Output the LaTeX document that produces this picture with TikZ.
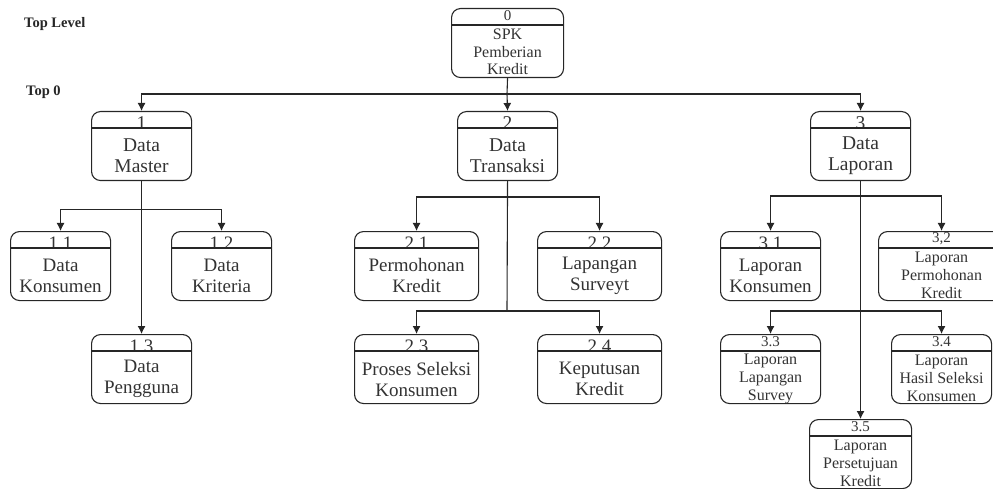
\documentclass[tikz,border=0pt]{standalone}
\usepackage{fontspec}
\setmainfont{Liberation Serif}
\usetikzlibrary{arrows.meta,calc}
\tikzset{x=1pt,y=-1pt,
 procbox/.style={draw=black!85,line width=1.1pt,rounded corners=9pt,inner sep=0pt,anchor=north west},
 arr/.style={draw=black!85,line width=1.1pt,-{Latex[length=8pt,width=8pt]}},
 plainline/.style={draw=black!85,line width=1.1pt},
 lab/.style={align=center,inner sep=0pt,text=black!80},
 toplab/.style={font=\fontsize{14.5pt}{16pt}\selectfont\bfseries,anchor=west,inner sep=0pt,text=black!85}}
% name, x1, x2, ytop, number, text, font size, leading, body centre offset
\newcommand{\pbox}[9]{%
 \node[procbox,minimum width={(#3-#2)*1pt},minimum height=69pt] (#1) at (#2,#4) {};
 \ifdim #7pt<18pt
  \node[lab,font=\fontsize{15}{15}\selectfont] (#1n) at ($(#1.north)+(0,7.5)$) {#5};
 \else
  \begin{scope}
   \clip (#1.north west) rectangle ($(#1.north east)+(0,17)$);
   \node[lab,font=\fontsize{#7pt}{#8pt}\selectfont] (#1n) at ($(#1.north)+(0,12)$) {#5};
  \end{scope}
 \fi
 \draw[plainline] ($(#1.north west)+(0,17)$) -- ($(#1.north east)+(0,17)$);
 \node[lab,font=\fontsize{#7pt}{#8pt}\selectfont] (#1t) at ($(#1.north)+(0,#9)$) {#6};
}
\begin{document}
\begin{tikzpicture}
\useasboundingbox (0,0) rectangle (993,489);
\begin{scope}
\clip (0,0) rectangle (993,489);
\pbox{db}{878}{1004}{231}{3,2}{Laporan\\Permohonan\\Kredit}{16}{18}{44.5}
\end{scope}
\node[toplab] (tl) at (24,24) {Top Level};
\node[toplab] (t0) at (26,92) {Top 0};
\pbox{a}{451}{563}{8}{0}{SPK\\Pemberian\\Kredit}{16}{17.5}{44}
\pbox{b}{91}{191}{111}{1}{Data\\Master}{19.5}{21}{45}
\pbox{c}{457}{557}{111}{2}{Data\\Transaksi}{19.5}{21}{45}
\pbox{d}{810}{910}{111}{3}{Data\\Laporan}{19.5}{21}{45}
\pbox{ba}{10}{110}{231}{1.1}{Data\\Konsumen}{19}{21}{45}
\pbox{bb}{171}{271}{231}{1.2}{Data\\Kriteria}{19}{21}{45}
\pbox{bc}{91}{191}{334}{1.3}{Data\\Pengguna}{19}{21}{45}
\pbox{ca}{354}{478}{231}{2.1}{Permohonan\\Kredit}{19}{21}{45}
\pbox{cb}{537}{661}{231}{2.2}{Lapangan\\Surveyt}{19}{21}{45}
\pbox{cc}{354}{478}{334}{2.3}{Proses Seleksi\\Konsumen}{19}{21}{45}
\pbox{cd}{537}{661}{334}{2.4}{Keputusan\\Kredit}{19}{21}{45}
\pbox{da}{720}{820}{231}{3.1}{Laporan\\Konsumen}{19}{21}{45}
\pbox{dc}{720}{820}{334}{3.3}{Laporan\\Lapangan\\Survey}{16}{18}{44.5}
\pbox{dd}{891}{991}{334}{3.4}{Laporan\\Hasil Seleksi\\Konsumen}{16}{18}{44.5}
\pbox{de}{809}{911}{419}{3.5}{Laporan\\Persetujuan\\Kredit}{16}{18}{44.5}
\coordinate (busa) at (507,94);
\coordinate (busb) at (141,209.5);
\coordinate (busc) at (507,197);
\coordinate (buscc) at (507,311);
\coordinate (busd) at (860,196);
\coordinate (busdd) at (860,311);
\draw[plainline] (a.south) -- (busa);
\draw[arr] (busa) -| (b.north);
\draw[arr] (busa) -- (c.north);
\draw[arr] (busa) -| (d.north);
\draw[arr] (b.south) -- (bc.north);
\draw[arr] (busb) -| (ba.north);
\draw[arr] (busb) -| (bb.north);
\draw[plainline] (c.south) -- (buscc);
\draw[arr] (busc) -| (ca.north);
\draw[arr] (busc) -| (cb.north);
\draw[arr] (buscc) -| (cc.north);
\draw[arr] (buscc) -| (cd.north);
\draw[arr] (d.south) -- (de.north);
\draw[arr] (busd) -| (da.north);
\draw[arr] (busd) -| (db.north);
\draw[arr] (busdd) -| (dc.north);
\draw[arr] (busdd) -| (dd.north);
\end{tikzpicture}
\end{document}
